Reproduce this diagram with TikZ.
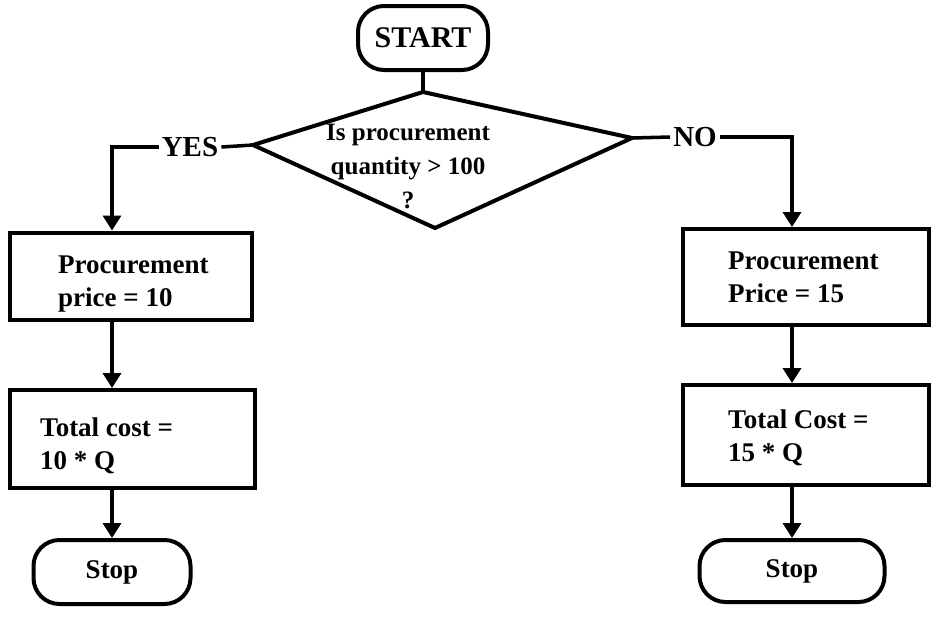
\documentclass[tikz,border=0pt]{standalone}
\usepackage{fontspec}
\setmainfont{Liberation Serif}
\usetikzlibrary{arrows.meta}
\begin{document}
\begin{tikzpicture}[x=1pt,y=-1pt,
  every node/.style={font=\fontsize{27}{33}\selectfont\bfseries},
  box/.style={draw, line width=4pt},
  btext/.style={align=left, anchor=west, inner sep=0pt},
  term/.style={draw, line width=4pt, rounded corners=26pt, align=center},
  conn/.style={line width=3.5pt},
  arr/.style={line width=3.5pt, -{Triangle[length=15pt,width=18pt]}},
  lbl/.style={inner sep=3pt, font=\fontsize{29}{33}\selectfont\bfseries}]
\useasboundingbox (0,0) rectangle (932,622);
% terminals
\node[term, minimum width=130pt, minimum height=64pt, font=\fontsize{30}{33}\selectfont\bfseries] (start) at (423,38) {START};
% decision
\coordinate (dT) at (423,92);
\coordinate (dL) at (253,145);
\coordinate (dB) at (435,228);
\coordinate (dR) at (632,138);
\draw[line width=4pt, line join=miter] (dT) -- (dR) -- (dB) -- (dL) -- cycle;
\node[align=center, font=\fontsize{25}{34}\selectfont\bfseries] (q) at (408,166) {Is procurement\\quantity > 100\\?};
% boxes
\node[box, minimum width=242pt, minimum height=87pt] (lb1) at (131,276) {};
\node[btext] (lb1t) at (58,284) {Procurement\\price = 10};
\node[box, minimum width=245pt, minimum height=98pt] (lb2) at (132,439) {};
\node[btext] (lb2t) at (40,446) {Total cost =\\10 * Q};
\node[box, minimum width=246pt, minimum height=96pt] (rb1) at (806,277) {};
\node[btext] (rb1t) at (728,277) {Procurement\\Price = 15};
\node[box, minimum width=246pt, minimum height=100pt] (rb2) at (806,435) {};
\node[btext] (rb2t) at (728,438) {Total Cost =\\15 * Q};
\node[term, minimum width=157pt, minimum height=64pt] (lstop) at (112,572) {Stop};
\node[term, minimum width=185pt, minimum height=62pt] (rstop) at (792,571) {Stop};
% labels
\node[lbl] (yes) at (190,147) {YES};
\node[lbl] (no) at (695,137) {NO};
\coordinate (yc) at (112,147);
\coordinate (nc) at (792,137);
% connectors
\draw[conn] (start.south) -- (dT);
\draw[conn] (dL) -- (yes.east);
\draw[arr] (yes.west) -- (yc) -- (yc |- lb1.north);
\draw[conn] (dR) -- (no.west);
\draw[arr] (no.east) -- (nc) -- (nc |- rb1.north);
\draw[arr] (lb1.south -| lstop.north) -- (lb2.north -| lstop.north);
\draw[arr] (lb2.south -| lstop.north) -- (lstop.north);
\draw[arr] (rb1.south -| rstop.north) -- (rb2.north -| rstop.north);
\draw[arr] (rb2.south -| rstop.north) -- (rstop.north);
\end{tikzpicture}
\end{document}
